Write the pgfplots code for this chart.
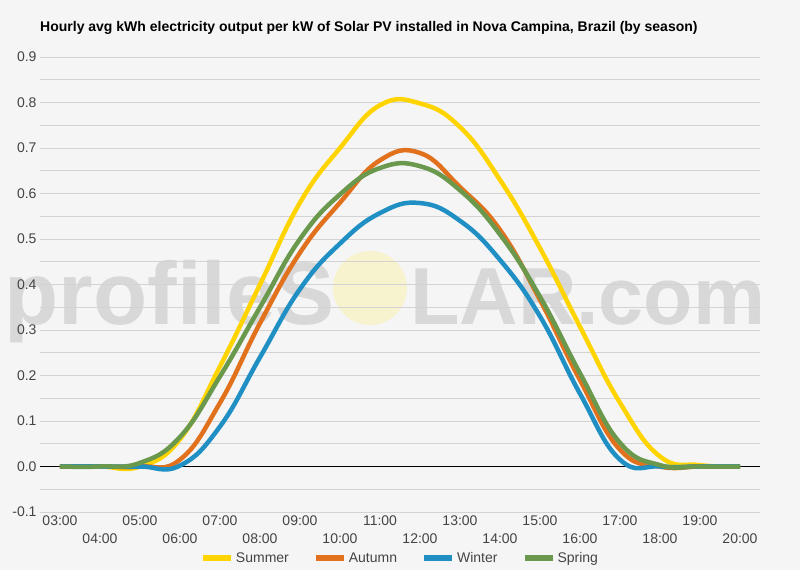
\documentclass[border=0pt]{standalone}
\usepackage{fontspec}
\setmainfont{Liberation Sans}
\usepackage{pgfplots}
\pgfplotsset{compat=1.18}
\usepackage{pgfplotstable}
\usepackage{graphicx}

\definecolor{bg}{HTML}{F5F5F5}
\definecolor{csummer}{HTML}{FFD400}
\definecolor{cautumn}{HTML}{E2711D}
\definecolor{cwinter}{HTML}{1F8FC4}
\definecolor{cspring}{HTML}{6A994E}
\definecolor{gridc}{HTML}{D3D3D3}
\definecolor{wm}{HTML}{D8D8D8}
\definecolor{sun}{HTML}{F7F3CF}
\definecolor{tick}{HTML}{444444}

\pgfplotstableread{
h su au wi sp
3 0 0 0 0
4 0 0 0 0
5 0 0 0 0.008
6 0.06 0.015 0.002 0.065
7 0.22 0.14 0.088 0.198
8 0.40 0.315 0.24 0.35
9 0.58 0.47 0.39 0.50
10 0.70 0.58 0.49 0.598
11 0.794 0.673 0.557 0.656
12 0.798 0.689 0.579 0.66
13 0.746 0.614 0.54 0.607
14 0.63 0.52 0.454 0.51
15 0.48 0.366 0.33 0.373
16 0.307 0.19 0.16 0.205
17 0.14 0.037 0.015 0.052
18 0.022 0 0 0.003
19 0.003 0 0 0
20 0 0 0 0
}\data

\begin{document}
\begin{tikzpicture}[x=1pt,y=1pt]
\fill[bg] (0,0) rectangle (800,570);
\path[use as bounding box] (0,0) rectangle (800,570);
% watermark
\fill[sun] (370,282) circle (37);
\node[anchor=base east, text=wm, inner sep=0] at (335,245) {\resizebox{330pt}{!}{\bfseries profileS}};
\node[anchor=base west, text=wm, inner sep=0] at (410,245) {\resizebox{355pt}{!}{\bfseries LAR.com}};
% title
\node[anchor=west, inner sep=0, text=black] at (40,542) {\fontsize{14}{16}\selectfont\bfseries Hourly avg kWh electricity output per kW of Solar PV installed in Nova Campina, Brazil (by season)};
\begin{axis}[
  at={(40pt,58pt)}, anchor=south west,
  scale only axis, width=720pt, height=455pt,
  xmin=2.5, xmax=20.5, ymin=-0.1, ymax=0.9,
  axis y line*=left, axis x line*=bottom,
  y axis line style={draw=none},
  x axis line style={gridc, line width=1pt},
  ytick={-0.1,0,0.1,0.2,0.3,0.4,0.5,0.6,0.7,0.8,0.9},
  yticklabels={-0.1,0.0,0.1,0.2,0.3,0.4,0.5,0.6,0.7,0.8,0.9},
  minor y tick num=1,
  ymajorgrids, yminorgrids,
  major grid style={gridc, line width=0.8pt},
  minor grid style={gridc, line width=0.8pt},
  major tick length=0, minor tick length=0,
  xtick={3,5,7,9,11,13,15,17,19},
  xticklabels={03:00,05:00,07:00,09:00,11:00,13:00,15:00,17:00,19:00},
  extra x ticks={4,6,8,10,12,14,16,18,20},
  extra x tick labels={04:00,06:00,08:00,10:00,12:00,14:00,16:00,18:00,20:00},
  extra x tick style={xticklabel style={yshift=-18pt}, xmajorgrids=false},
  extra y ticks={0}, extra y tick labels={},
  extra y tick style={ymajorgrids=true, major grid style={black, line width=0.9pt}},
  ticklabel style={font=\fontsize{14}{16}\selectfont, text=tick},
  /pgf/number format/assume math mode=true,
  legend style={at={(0.5,-0.101)}, anchor=center, draw=none, fill=none,
     legend columns=4, font=\fontsize{14}{16}\selectfont, text=tick,
     /tikz/every even column/.append style={column sep=22pt}},
  legend image code/.code={\draw[#1, line width=6pt] (0pt,0pt) -- (28pt,0pt);},
  every axis plot/.append style={line width=4.5pt, smooth, tension=0.75, line join=round},
]
\addplot[csummer] table[x=h,y=su]{\data};
\addlegendentry{Summer}
\addplot[cautumn] table[x=h,y=au]{\data};
\addlegendentry{Autumn}
\addplot[cwinter] table[x=h,y=wi]{\data};
\addlegendentry{Winter}
\addplot[cspring] table[x=h,y=sp]{\data};
\addlegendentry{Spring}
\end{axis}
\end{tikzpicture}
\end{document}
